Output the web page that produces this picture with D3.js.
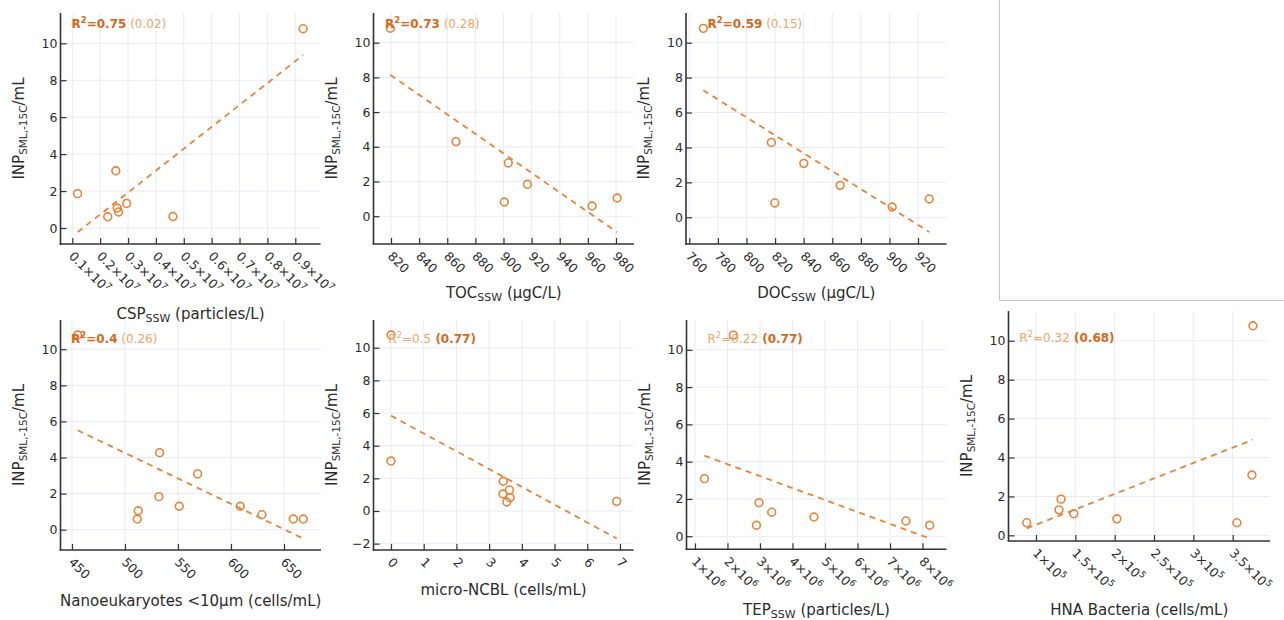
<!DOCTYPE html>
<html><head><meta charset="utf-8">
<script src="https://cdn.jsdelivr.net/npm/d3@7"></script>
<style>body{margin:0;background:#fff;} svg{display:block;font-family:"DejaVu Sans",Verdana,sans-serif;}</style>
</head><body><svg id="c" width="1284" height="620"></svg>
<script>
// ---------- data ----------
const csp_x = [0.119e7, 0.227e7, 0.256e7, 0.261e7, 0.266e7, 0.295e7, 0.461e7, 0.928e7];
const csp_y = [1.86, 0.61, 3.10, 1.08, 0.87, 1.33, 0.62, 10.79];
const toc_x = [819.5, 866.2, 903.4, 900.6, 917.0, 963.0, 980.8];
const toc_y = [10.83, 4.30, 3.07, 0.82, 1.84, 0.59, 1.05];
const doc_x = [769.8, 817.4, 819.8, 840.1, 865.5, 901.9, 927.8];
const doc_y = [10.82, 4.29, 0.82, 3.09, 1.83, 0.59, 1.05];
const nano_x = [455.4, 532.7, 568.5, 532.0, 551.2, 512.5, 511.6, 608.7, 629.1, 658.8, 668.2];
const nano_y = [10.79, 4.27, 3.09, 1.83, 1.30, 1.05, 0.59, 1.30, 0.83, 0.59, 0.59];
const micro_x = [0, 0, 3.43, 3.42, 3.62, 3.54, 3.64, 6.90];
const micro_y = [10.78, 3.06, 1.82, 1.04, 1.29, 0.55, 0.82, 0.59];
const tep_x = [2.18e6, 1.29e6, 2.97e6, 3.36e6, 2.89e6, 4.66e6, 7.49e6, 8.22e6];
const tep_y = [10.79, 3.09, 1.80, 1.29, 0.59, 1.03, 0.82, 0.59];
const hna_x = [0.882e5, 1.292e5, 1.318e5, 1.48e5, 2.027e5, 3.553e5, 3.744e5, 3.757e5];
const hna_y = [0.65, 1.31, 1.86, 1.11, 0.85, 0.65, 3.10, 10.77];

// ---------- ticks ----------
const y_ticks = [0, 2, 4, 6, 8, 10];
const y_ticks_micro = [-2, 0, 2, 4, 6, 8, 10];
const csp_ticks = [0.1e7, 0.2e7, 0.3e7, 0.4e7, 0.5e7, 0.6e7, 0.7e7, 0.8e7, 0.9e7];
const csp_tick_labels = ["0.1", "0.2", "0.3", "0.4", "0.5", "0.6", "0.7", "0.8", "0.9"];
const toc_ticks = [820, 840, 860, 880, 900, 920, 940, 960, 980];
const doc_ticks = [760, 780, 800, 820, 840, 860, 880, 900, 920];
const nano_ticks = [450, 500, 550, 600, 650];
const micro_ticks = [0, 1, 2, 3, 4, 5, 6, 7];
const tep_ticks = [1e6, 2e6, 3e6, 4e6, 5e6, 6e6, 7e6, 8e6];
const tep_tick_labels = ["1", "2", "3", "4", "5", "6", "7", "8"];
const hna_ticks = [1e5, 1.5e5, 2e5, 2.5e5, 3e5, 3.5e5];
const hna_tick_labels = ["1", "1.5", "2", "2.5", "3", "3.5"];

// ---------- annotation text ----------
const r2_texts = [
  [["R", "2", "=0.75", true], [" (0.02)", false]],
  [["R", "2", "=0.73", true], [" (0.28)", false]],
  [["R", "2", "=0.59", true], [" (0.15)", false]],
  [["R", "2", "=0.4", true], [" (0.26)", false]],
  [["R", "2", "=0.5", false], [" (0.77)", true]],
  [["R", "2", "=0.22", false], [" (0.77)", true]],
  [["R", "2", "=0.32", false], [" (0.68)", true]]
];
const x_titles = [
  ["CSP", "SSW", " (particles/L)"],
  ["TOC", "SSW", " (µgC/L)"],
  ["DOC", "SSW", " (µgC/L)"],
  ["Nanoeukaryotes <10µm (cells/mL)", "", ""],
  ["micro-NCBL (cells/mL)", "", ""],
  ["TEP", "SSW", " (particles/L)"],
  ["HNA Bacteria (cells/mL)", "", ""]
];

// ---------- layout ----------
const panels = [
  {x: csp_x, y: csp_y, box: [60.5, 13, 320.5, 244], xd: [0.0577e7, 0.9904e7], yd: [-0.866, 11.64], xt: csp_ticks, xtl: csp_tick_labels, exp: "7", yt: y_ticks, xtB: 318.5, lab: [71.5, 28.3]},
  {x: toc_x, y: toc_y, box: [373.5, 13, 634, 244], xd: [807.55, 992.8], yd: [-1.60, 11.71], xt: toc_ticks, yt: y_ticks, xtB: 297.5, lab: [385, 28.3]},
  {x: doc_x, y: doc_y, box: [686, 13, 946.5, 244], xd: [757.7, 939.9], yd: [-1.53, 11.70], xt: doc_ticks, yt: y_ticks, xtB: 297.5, lab: [707.5, 28.3]},
  {x: nano_x, y: nano_y, box: [60.5, 320, 321, 550], xd: [439.2, 684.9], yd: [-1.125, 11.62], xt: nano_ticks, yt: y_ticks, xtB: 606, lab: [71, 343.3]},
  {x: micro_x, y: micro_y, box: [373.5, 320, 633.5, 550], xd: [-0.535, 7.413], yd: [-2.39, 11.70], xt: micro_ticks, yt: y_ticks_micro, xtB: 594.5, lab: [388.3, 343.3]},
  {x: tep_x, y: tep_y, box: [686.5, 320, 946.5, 549.3], xd: [0.739e6, 8.737e6], yd: [-0.70, 11.60], xt: tep_ticks, xtl: tep_tick_labels, exp: "6", yt: y_ticks, xtB: 614.5, lab: [707.5, 343.3]},
  {x: hna_x, y: hna_y, box: [1008.5, 311, 1270, 541], xd: [0.650e5, 3.974e5], yd: [-0.29, 11.53], xt: hna_ticks, xtl: hna_tick_labels, exp: "5", yt: y_ticks, xtB: 614.5, lab: [1019.3, 342.3]}
];

const ORANGE = "#e8833a", BOLD = "#d9681c", LIGHT = "#f0a468", GRID = "#e8ebf6", AXIS = "#333", TXT = "#2b2b2b";
const svg = d3.select("#c");

// empty subplot frame
svg.append("line").attr("x1", 999.5).attr("x2", 999.5).attr("y1", 0).attr("y2", 300.5).attr("stroke", "#c8c8c8");
svg.append("line").attr("x1", 999.5).attr("x2", 1284).attr("y1", 300.5).attr("y2", 300.5).attr("stroke", "#c8c8c8");

function linreg(xs, ys) {
  const n = xs.length, mx = d3.mean(xs), my = d3.mean(ys);
  let sxy = 0, sxx = 0;
  for (let i = 0; i < n; i++) { sxy += (xs[i] - mx) * (ys[i] - my); sxx += (xs[i] - mx) ** 2; }
  const b = sxy / sxx; return {b, a: my - b * mx};
}

panels.forEach((p, i) => {
  const [L, T, R, B] = p.box;
  const xs = d3.scaleLinear().domain(p.xd).range([L, R]);
  const ys = d3.scaleLinear().domain(p.yd).range([B, T]);
  const g = svg.append("g");

  // grid
  g.selectAll(".gx").data(p.xt).join("line").attr("x1", d => xs(d)).attr("x2", d => xs(d)).attr("y1", T).attr("y2", B).attr("stroke", GRID);
  g.selectAll(".gy").data(p.yt).join("line").attr("x1", L).attr("x2", R).attr("y1", d => ys(d)).attr("y2", d => ys(d)).attr("stroke", GRID);

  // axes
  const ax = d3.axisBottom(xs).tickValues(p.xt).tickSizeInner(-6).tickSizeOuter(0).tickFormat("");
  const gx = g.append("g").attr("transform", `translate(0,${B})`).call(ax);
  const ay = d3.axisLeft(ys).tickValues(p.yt).tickSizeInner(-6).tickSizeOuter(0).tickFormat("");
  const gy = g.append("g").attr("transform", `translate(${L},0)`).call(ay);
  [gx, gy].forEach(a => { a.select(".domain").attr("stroke", AXIS).attr("stroke-width", 1.6); a.selectAll(".tick line").attr("stroke", AXIS).attr("stroke-width", 1.2); });
  gx.select(".domain").attr("d", `M${L - 0.8},0H${R}`);
  gy.select(".domain").attr("d", `M0,${T}V${B + 0.8}`);

  // y tick labels
  g.selectAll(".yl").data(p.yt).join("text").attr("x", L - 3).attr("y", d => ys(d)).attr("dy", "0.36em")
    .attr("text-anchor", "end").attr("font-size", 12.5).attr("fill", TXT).text(d => d < 0 ? "\u2212" + Math.abs(d) : d);

  // x tick labels (rotated)
  p.xt.forEach((v, k) => {
    const t = g.append("text").attr("transform", `translate(${xs(v) - 4},${B + 13}) rotate(45)`)
      .attr("font-size", 12.5).attr("fill", TXT);
    if (p.xtl) {
      t.append("tspan").text(p.xtl[k] + "\u00d710");
      t.append("tspan").attr("dy", -5).attr("font-size", 9).text(p.exp);
    } else t.text(v);
  });

  // fit line
  const f = linreg(p.x, p.y);
  const x0 = d3.min(p.x), x1 = d3.max(p.x);
  g.append("line").attr("x1", xs(x0)).attr("y1", ys(f.a + f.b * x0)).attr("x2", xs(x1)).attr("y2", ys(f.a + f.b * x1))
    .attr("stroke", ORANGE).attr("stroke-width", 1.8).attr("stroke-dasharray", "6,5");

  // points
  g.selectAll(".pt").data(p.x.map((x, k) => [x, p.y[k]])).join("circle")
    .attr("cx", d => xs(d[0])).attr("cy", d => ys(d[1])).attr("r", 3.9)
    .attr("fill", "none").attr("stroke", ORANGE).attr("stroke-width", 1.6);

  // R2 label
  const [seg1, seg2] = r2_texts[i];
  const lt = g.append("text").attr("x", p.lab[0]).attr("y", p.lab[1]).attr("font-size", 12);
  const w1 = seg1[3] ? "bold" : "normal", c1 = seg1[3] ? BOLD : LIGHT;
  lt.append("tspan").attr("font-weight", w1).attr("fill", c1).text(seg1[0]);
  lt.append("tspan").attr("font-weight", w1).attr("fill", c1).attr("dy", -5).attr("font-size", 8.5).text(seg1[1]);
  lt.append("tspan").attr("font-weight", w1).attr("fill", c1).attr("dy", 5).text(seg1[2]);
  lt.append("tspan").attr("font-weight", seg2[1] ? "bold" : "normal").attr("fill", seg2[1] ? BOLD : LIGHT).text(seg2[0]);

  // x title
  const xt = x_titles[i];
  const tx = g.append("text").attr("x", (L + R) / 2).attr("y", p.xtB).attr("text-anchor", "middle")
    .attr("font-size", 15).attr("fill", TXT);
  tx.append("tspan").text(xt[0]);
  if (xt[1]) {
    tx.append("tspan").attr("font-size", 11).attr("dy", 3).text(xt[1]);
    tx.append("tspan").attr("dy", -3).text(xt[2]);
  }

  // y title
  const ty = g.append("text").attr("transform", `translate(${L - 42},${(T + B) / 2}) rotate(-90)`).attr("dy", "0.36em")
    .attr("text-anchor", "middle").attr("font-size", 15).attr("fill", TXT);
  ty.append("tspan").text("INP");
  ty.append("tspan").attr("font-size", 10.5).attr("dy", 3).text("SML,-15C");
  ty.append("tspan").attr("dy", -3).text("/mL");
});
</script></body></html>
